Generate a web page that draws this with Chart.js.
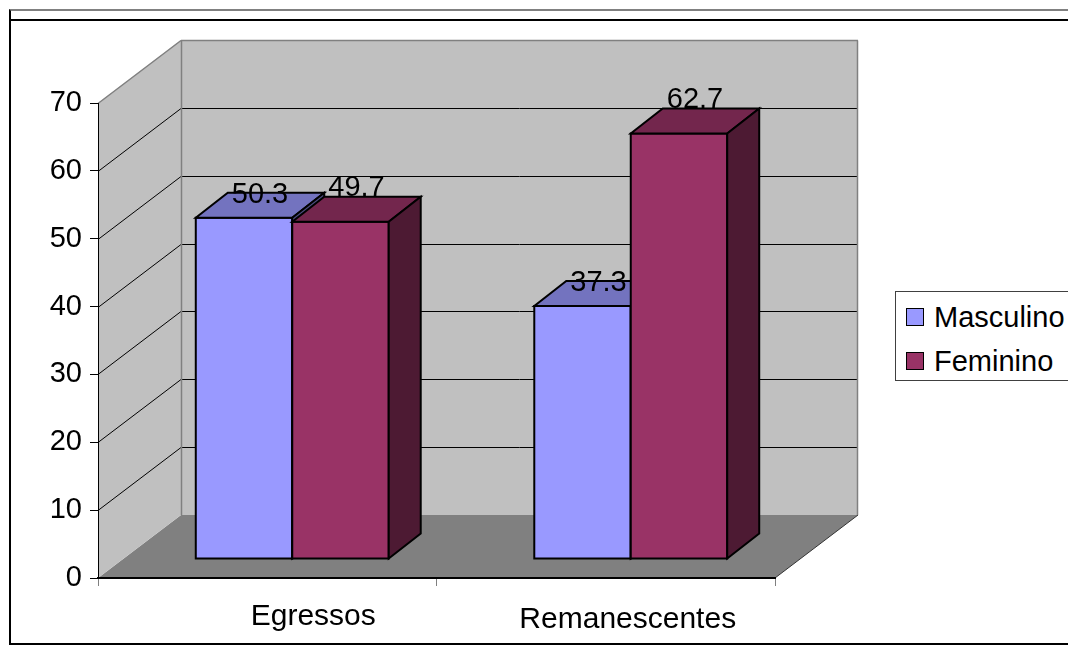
<!DOCTYPE html>
<html lang="pt">
<head>
<meta charset="utf-8">
<title>Egressos e remanescentes por sexo</title>
<script src="https://cdn.jsdelivr.net/npm/chart.js@4/dist/chart.umd.min.js"></script>
<style>
  html, body { margin: 0; padding: 0; background: #fff; overflow: hidden; }
  body { width: 1068px; height: 646px; position: relative; font-family: "Liberation Sans", Arial, sans-serif; }
  #frame { position: absolute; left: 9px; top: 9px; width: 1100px; height: 632px;
    border-top: 2px solid #808080; border-left: 2px solid #000; border-bottom: 2px solid #000; }
  #frame-inner { position: absolute; left: 10px; top: 19px; width: 1100px; height: 2px; background: #000; }
  #chart { position: absolute; left: 0; top: 0; }
  #legend { position: absolute; left: 895px; top: 291px; width: 200px; height: 88px;
    border: 1px solid #404040; background: #fff; }
  .leg-item { position: absolute; left: 10px; height: 34px; line-height: 34px; font-size: 29px; color: #000; white-space: nowrap; }
  .leg-box { position: absolute; left: 0; top: 8px; width: 16px; height: 16px; border: 1px solid #000; }
  .leg-text { position: absolute; left: 28px; top: 0; }
</style>
</head>
<body>
<div id="frame"></div>
<div id="frame-inner"></div>
<canvas id="chart" width="1068" height="646"></canvas>
<div id="legend"></div>
<script>
// ── Dados ──────────────────────────────────────────────────────────────

const categories = ['Egressos', 'Remanescentes']
const masculino = [50.3, 37.3]
const feminino = [49.7, 62.7]
const yMin = 0
const yMax = 70
const yStep = 10

// ── Aparência 3D ───────────────────────────────────────────────────────

const FONT = '"Liberation Sans", Arial, sans-serif'
const DEPTH = { dx: 83, dy: -63 }        // profundidade do piso / paredes
const BAR_SHIFT = { dx: 25, dy: -19 }    // plano frontal das barras
const BAR_DEPTH = { dx: 32, dy: -25 }    // espessura das barras
const LABEL_LIFT = [10, -1]              // ajuste vertical dos rótulos por série
const CAT_SHIFT = [46, 22]               // deslocamento dos rótulos do eixo x
const CAT_DROP = [0, 3]

const seriesStyle = [
  { front: '#9999FF', top: '#7373BF', side: '#4D4D80' },
  { front: '#993366', top: '#73264D', side: '#4D1A33' }
]

function poly (ctx, pts, fill, stroke, lw) {
  ctx.beginPath()
  ctx.moveTo(pts[0][0], pts[0][1])
  for (let i = 1; i < pts.length; i++) ctx.lineTo(pts[i][0], pts[i][1])
  ctx.closePath()
  if (fill) { ctx.fillStyle = fill; ctx.fill() }
  if (stroke) { ctx.strokeStyle = stroke; ctx.lineWidth = lw || 1; ctx.stroke() }
}

function line (ctx, x1, y1, x2, y2, color, lw) {
  ctx.beginPath()
  ctx.moveTo(x1, y1)
  ctx.lineTo(x2, y2)
  ctx.strokeStyle = color
  ctx.lineWidth = lw || 1
  ctx.stroke()
}

// Paredes, piso e linhas de grade (antes dos eixos)
const walls3d = {
  id: 'walls3d',
  beforeDraw (chart) {
    const { ctx, chartArea: a, scales } = chart
    const y = scales.y
    const L = a.left, R = a.right, T = a.top, B = a.bottom
    const dx = DEPTH.dx, dy = DEPTH.dy
    ctx.save()
    // piso
    poly(ctx, [[L, B], [R, B], [R + dx, B + dy], [L + dx, B + dy]], '#808080')
    line(ctx, R, B, R + dx, B + dy, '#333333', 1)
    // parede lateral e fundo
    poly(ctx, [[L, B], [L, T], [L + dx, T + dy], [L + dx, B + dy]], '#C0C0C0')
    poly(ctx, [[L + dx, T + dy], [R + dx, T + dy], [R + dx, B + dy], [L + dx, B + dy]], '#C0C0C0')
    // grade
    for (let v = yMin + yStep; v < yMax; v += yStep) {
      const yf = Math.round(y.getPixelForValue(v)) + 0.5
      line(ctx, L, yf, L + dx, yf + dy, '#000', 1)
      line(ctx, L + dx, yf + dy, R + dx, yf + dy, '#000', 1)
    }
    // arestas
    const yt = Math.round(T) + 0.5
    line(ctx, L, yt, L + dx, yt + dy, '#808080', 1.5)
    line(ctx, L + dx, yt + dy, R + dx, yt + dy, '#808080', 1.5)
    line(ctx, L + dx + 0.5, yt + dy, L + dx + 0.5, B + dy, '#808080', 1.5)
    line(ctx, R + dx - 0.5, yt + dy, R + dx - 0.5, B + dy, '#808080', 1.5)
    ctx.restore()
  }
}

// Barras em 3D a partir dos elementos calculados pelo Chart.js
const bars3d = {
  id: 'bars3d',
  afterDatasetsDraw (chart) {
    const { ctx, scales } = chart
    const metas = chart.data.datasets.map((d, i) => chart.getDatasetMeta(i))
    ctx.save()
    ctx.lineJoin = 'miter'
    for (let c = 0; c < categories.length; c++) {
      metas.forEach((meta, s) => {
        const el = meta.data[c]
        const p = el.getProps(['x', 'y', 'base', 'width'], true)
        const st = seriesStyle[s]
        const l = p.x - p.width / 2 + BAR_SHIFT.dx
        const r = l + p.width
        const t = p.y + BAR_SHIFT.dy
        const b = p.base + BAR_SHIFT.dy
        const bx = BAR_DEPTH.dx, by = BAR_DEPTH.dy
        poly(ctx, [[l, t], [r, t], [r, b], [l, b]], st.front, '#000', 2)
        poly(ctx, [[l, t], [r, t], [r + bx, t + by], [l + bx, t + by]], st.top, '#000', 2)
        poly(ctx, [[r, t], [r + bx, t + by], [r + bx, b + by], [r, b]], st.side, '#000', 2)
      })
    }
    // rótulos de valor
    ctx.fillStyle = '#000'
    ctx.font = '29px ' + FONT
    ctx.textAlign = 'center'
    ctx.textBaseline = 'alphabetic'
    metas.forEach((meta, s) => {
      const values = chart.data.datasets[s].data
      meta.data.forEach((el, c) => {
        const p = el.getProps(['x', 'y'], true)
        const tx = p.x + BAR_SHIFT.dx + BAR_DEPTH.dx / 2
        const ty = p.y + BAR_SHIFT.dy + BAR_DEPTH.dy + LABEL_LIFT[s]
        ctx.fillText(values[c].toFixed(1), tx, ty)
      })
    })
    // categorias
    const x = scales.x
    ctx.font = '30px ' + FONT
    categories.forEach((name, i) => {
      ctx.fillText(name, x.getPixelForValue(i) + CAT_SHIFT[i], 625 + CAT_DROP[i])
    })
    ctx.restore()
  }
}

// ── Gráfico ────────────────────────────────────────────────────────────

const chart = new Chart(document.getElementById('chart').getContext('2d'), {
  type: 'bar',
  data: {
    labels: categories,
    datasets: [
      { label: 'Masculino', data: masculino, backgroundColor: 'rgba(0,0,0,0)', borderWidth: 0 },
      { label: 'Feminino', data: feminino, backgroundColor: 'rgba(0,0,0,0)', borderWidth: 0 }
    ]
  },
  options: {
    responsive: false,
    animation: false,
    devicePixelRatio: 1,
    layout: { padding: { top: 103, right: 293, bottom: 0, left: 0 } },
    categoryPercentage: 0.57,
    barPercentage: 1,
    plugins: { legend: { display: false }, tooltip: { enabled: false } },
    scales: {
      x: {
        afterFit: s => { s.height = 68 },
        ticks: { display: false },
        grid: { offset: true, drawOnChartArea: false, tickLength: 8, tickColor: '#808080' },
        border: { color: '#000', width: 2 }
      },
      y: {
        min: yMin,
        max: yMax,
        afterFit: s => { s.width = 98 },
        ticks: { stepSize: yStep, color: '#000', padding: 8, font: { size: 29, family: FONT } },
        grid: { drawOnChartArea: false, tickLength: 8, tickColor: '#000' },
        border: { color: '#000', width: 1 }
      }
    }
  },
  plugins: [walls3d, bars3d]
})

// ── Legenda ────────────────────────────────────────────────────────────

document.getElementById('legend').innerHTML = chart.data.datasets.map((d, i) => `
  <div class="leg-item" style="top:${8 + i * 44}px">
    <span class="leg-box" style="background:${seriesStyle[i].front}"></span>
    <span class="leg-text">${d.label}</span>
  </div>`).join('')
</script>
</body>
</html>
